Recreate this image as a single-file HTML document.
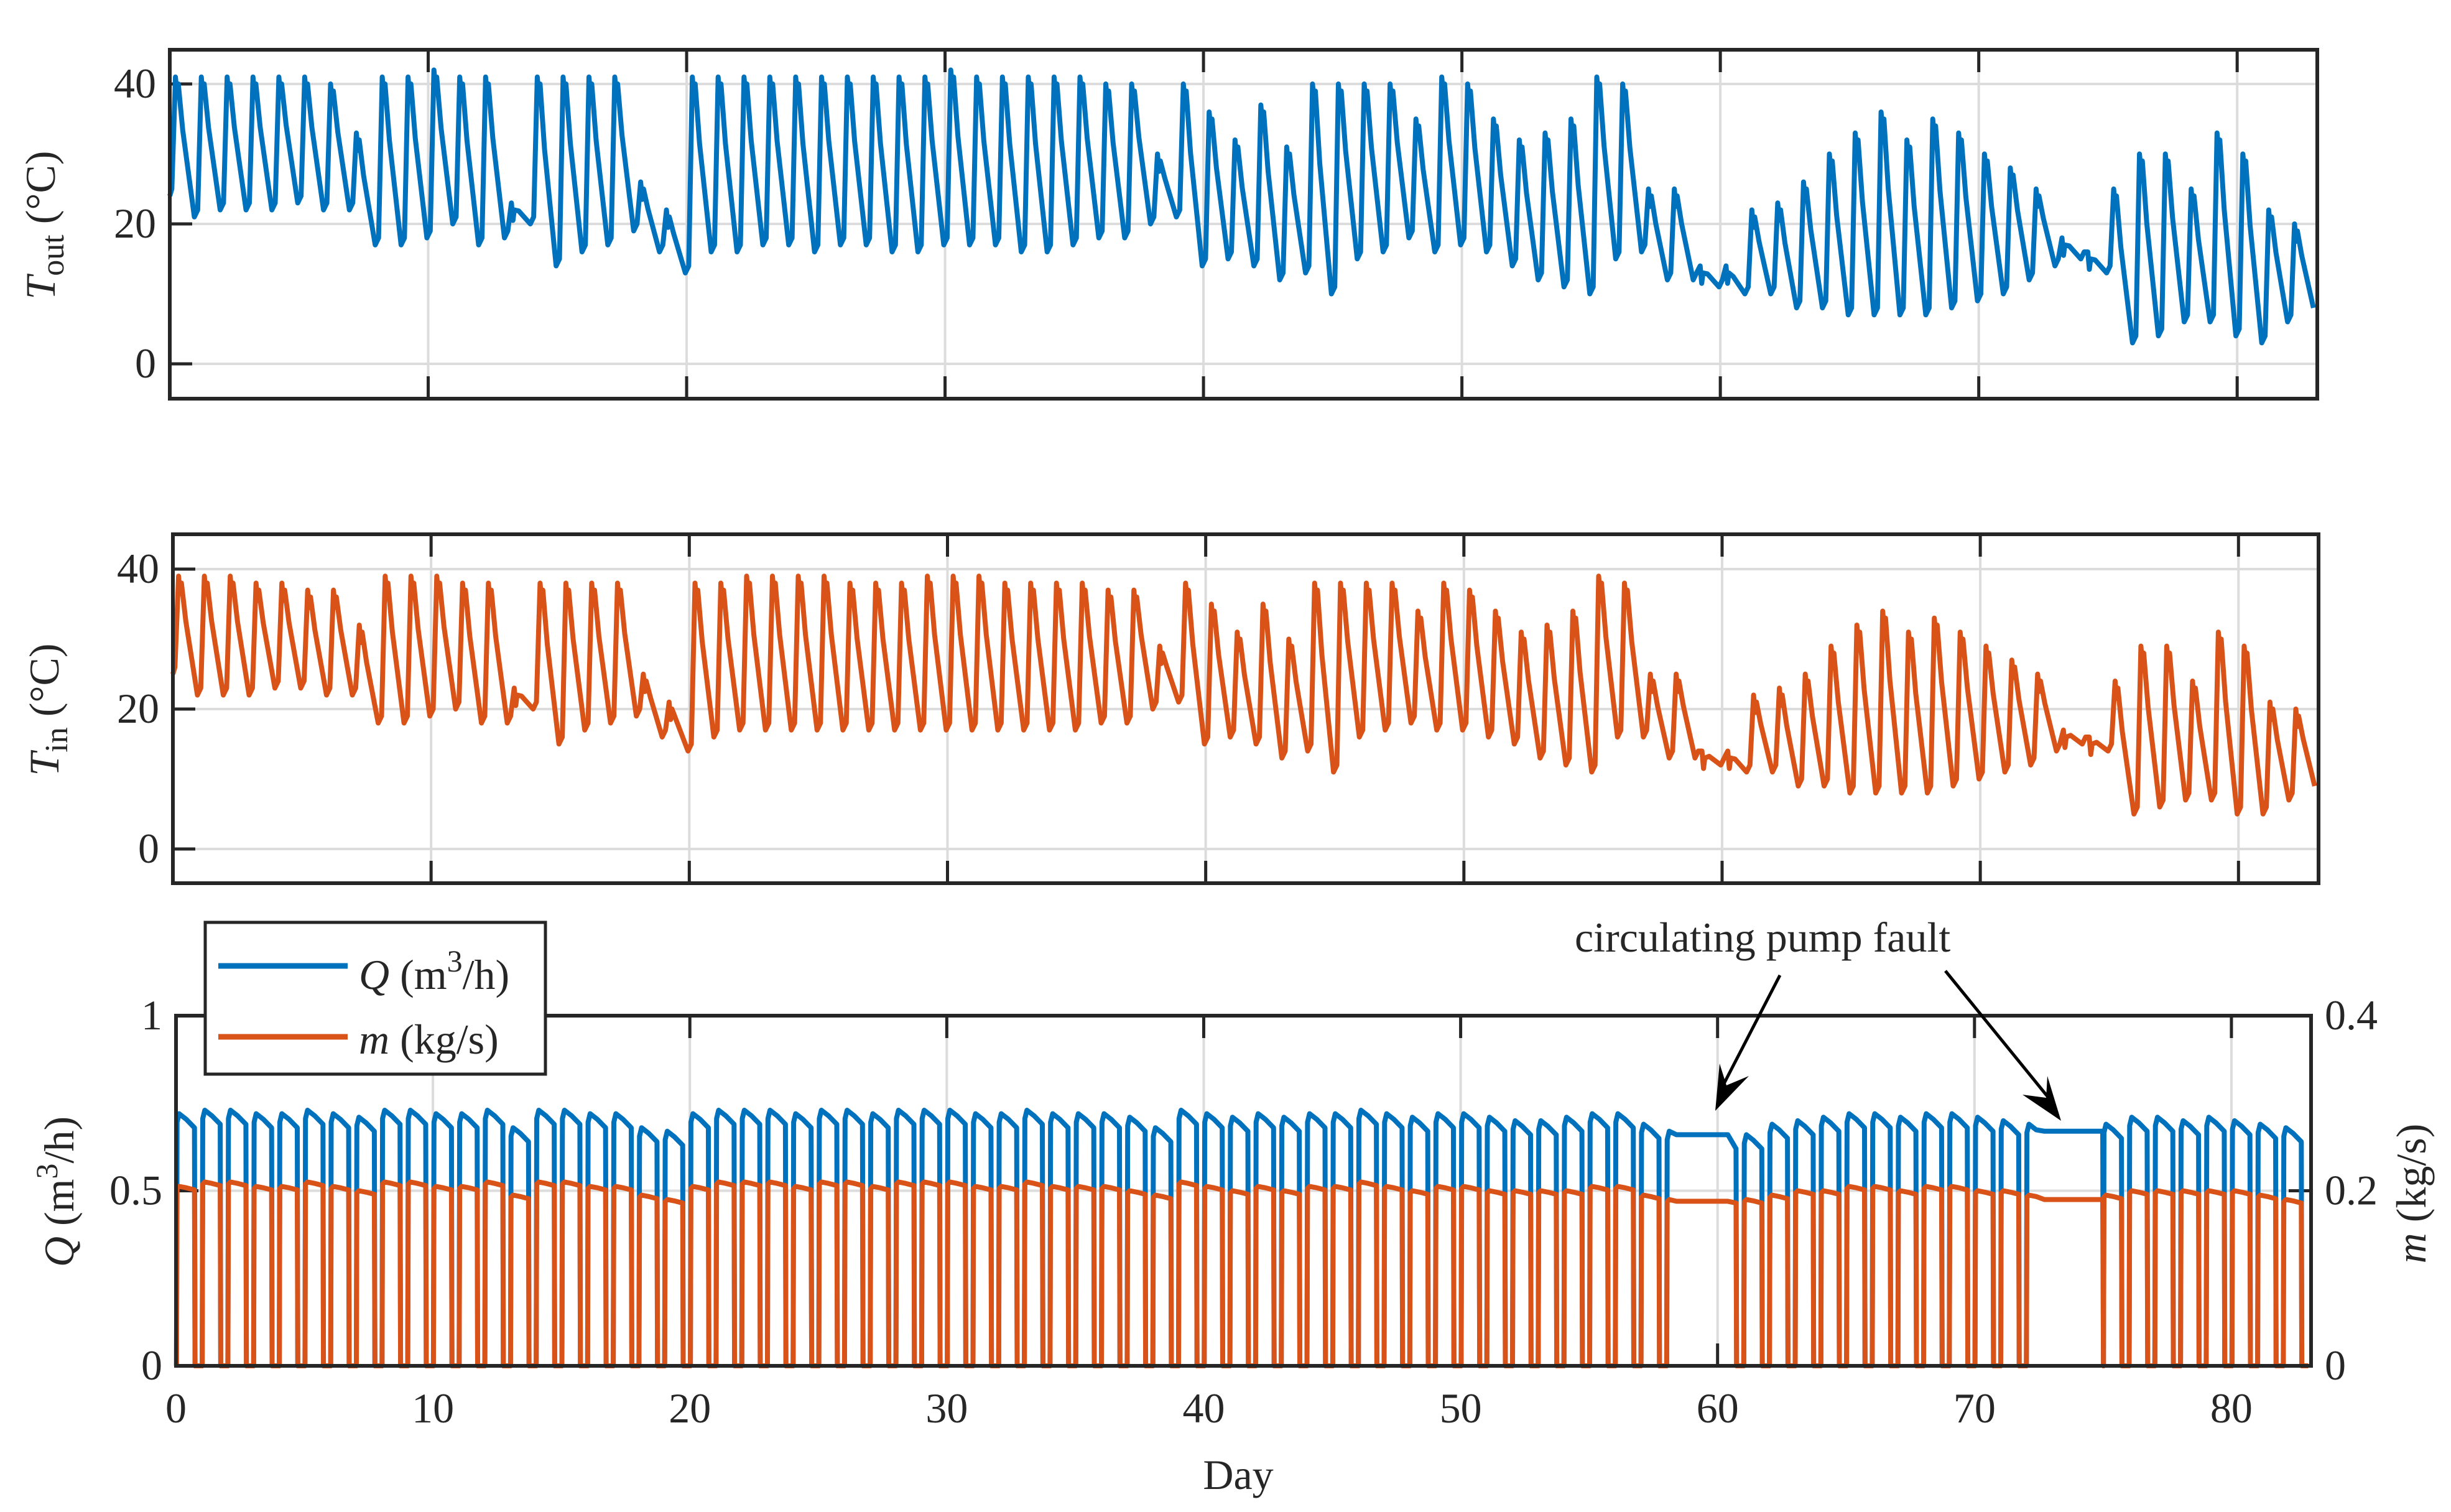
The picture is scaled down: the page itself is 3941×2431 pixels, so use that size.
<!DOCTYPE html>
<html><head><meta charset="utf-8"><style>
html,body{margin:0;padding:0;background:#fff}
svg{display:block}
text{font-family:"Liberation Serif",serif;fill:#262626}
</style></head><body>
<svg id="fig" width="3941" height="2431" viewBox="0 0 3941 2431" xmlns="http://www.w3.org/2000/svg">
<rect width="3941" height="2431" fill="#fff"/>
<g id="p1"></g>
<g id="p2"></g>
<g id="p3"></g>
<text transform="translate(88,362) rotate(-90)" text-anchor="middle" font-size="68"><tspan font-style="italic">T</tspan><tspan font-size="52" dy="14">out</tspan><tspan dy="-14"> (°C)</tspan></text>
<text transform="translate(94,1141) rotate(-90)" text-anchor="middle" font-size="68"><tspan font-style="italic">T</tspan><tspan font-size="52" dy="14">in</tspan><tspan dy="-14"> (°C)</tspan></text>
<text transform="translate(118,1916) rotate(-90)" text-anchor="middle" font-size="68"><tspan font-style="italic">Q</tspan> (m<tspan font-size="50" dy="-26">3</tspan><tspan dy="26">/h)</tspan></text>
<text transform="translate(3900,1919) rotate(-90)" text-anchor="middle" font-size="68"><tspan font-style="italic">m</tspan> (kg/s)</text>
<text x="1991" y="2394" text-anchor="middle" font-size="68">Day</text>
<g>
<rect x="330" y="1483" width="547" height="244" fill="#fff" stroke="#262626" stroke-width="5"/>
<line x1="351" y1="1553" x2="559" y2="1553" stroke="#0072BD" stroke-width="9"/>
<line x1="351" y1="1667" x2="559" y2="1667" stroke="#D95319" stroke-width="9"/>
<text x="577" y="1590" font-size="68"><tspan font-style="italic">Q</tspan> (m<tspan font-size="50" dy="-28">3</tspan><tspan dy="28">/h)</tspan></text>
<text x="577" y="1694" font-size="68"><tspan font-style="italic">m</tspan> (kg/s)</text>
</g>
<g>
<text x="2532" y="1530" font-size="68" fill="#000">circulating pump fault</text>
<line x1="2862" y1="1568" x2="2768" y2="1750" stroke="#000" stroke-width="5"/>
<polygon points="2758,1786 2765,1710 2776,1745 2812,1730" fill="#000"/>
<line x1="3128" y1="1561" x2="3298" y2="1770" stroke="#000" stroke-width="5"/>
<polygon points="3314,1802 3292,1730 3290,1765 3252,1760" fill="#000"/>
</g>
</svg>
<script>
const days = [];for(let i=0;i<83;i++)days.push(i);
const tOutPeak=[41,41,41,41,41,41,40,33,41,41,42,41,41,23,41,41,41,41,26,22,41,41,41,41,41,41,41,41,41,41,42,41,41,41,41,41,40,40,30,40,36,32,37,31,40,40,40,40,35,41,40,35,32,33,35,41,40,25,25,14,14,22,23,26,30,33,36,32,35,33,30,28,25,18,16,25,30,30,25,33,30,22,20];
const tOutMin=[21,22,22,22,23,22,22,17,17,18,20,17,18,20,14,16,17,19,16,13,16,16,17,17,16,17,17,16,16,17,17,17,16,16,17,18,18,20,21,14,15,14,12,13,10,15,16,18,16,17,16,14,12,11,10,15,16,12,12,11,10,10,8,8,7,7,7,7,8,9,10,12,14,15,13,3,4,6,6,4,3,6,8];
const tInPeak=[39,39,39,38,38,37,37,32,39,39,39,38,38,23,38,38,38,38,25,21,38,38,39,39,39,39,38,38,38,39,39,39,38,38,38,38,37,37,29,38,35,31,35,30,38,38,38,38,34,38,37,34,31,32,34,39,38,25,25,14,14,22,23,25,29,32,34,31,33,31,29,27,25,17,16,24,29,29,24,31,29,21,20];
const tInMin=[22,22,22,23,23,22,22,18,18,19,20,18,18,20,15,17,18,19,16,14,16,17,17,17,17,17,17,17,17,17,17,17,17,17,17,18,18,20,21,15,16,15,13,14,11,16,17,18,17,17,16,15,13,12,11,16,16,13,13,12,11,11,9,9,8,8,8,8,9,10,11,12,14,15,14,5,6,7,7,5,5,7,9];
const qPeak=[0.72,0.73,0.73,0.72,0.72,0.73,0.72,0.71,0.73,0.73,0.72,0.72,0.73,0.68,0.73,0.73,0.72,0.72,0.68,0.67,0.72,0.73,0.73,0.73,0.72,0.73,0.73,0.72,0.73,0.73,0.73,0.72,0.72,0.73,0.72,0.72,0.72,0.71,0.68,0.73,0.72,0.71,0.72,0.71,0.72,0.72,0.73,0.72,0.71,0.72,0.72,0.71,0.70,0.70,0.71,0.72,0.72,0.69,0.67,0.66,0.66,0.66,0.69,0.70,0.71,0.72,0.72,0.71,0.72,0.72,0.71,0.70,0.69,0.68,0.67,0.69,0.71,0.71,0.70,0.71,0.70,0.69,0.68];
const mPeak=[0.205,0.21,0.21,0.205,0.205,0.21,0.205,0.2,0.21,0.21,0.205,0.205,0.21,0.195,0.21,0.21,0.205,0.205,0.195,0.19,0.205,0.21,0.21,0.21,0.205,0.21,0.21,0.205,0.21,0.21,0.21,0.205,0.205,0.21,0.205,0.205,0.205,0.2,0.195,0.21,0.205,0.2,0.205,0.2,0.205,0.205,0.21,0.205,0.2,0.205,0.205,0.2,0.2,0.2,0.2,0.205,0.205,0.195,0.19,0.19,0.19,0.19,0.195,0.2,0.2,0.205,0.205,0.2,0.205,0.205,0.2,0.2,0.195,0.195,0.195,0.195,0.2,0.2,0.2,0.2,0.2,0.195,0.19];
const faultStart=[58.4,72.6];
const faultEnd=[60.6,75.0];
const faultQ=[0.66,0.67];
const faultM=[0.188,0.19];
const xTicks=[0,10,20,30,40,50,60,70,80];
const tTicks=[0,20,40];
const qTicks=[0,0.5,1];
const mTicks=[0,0.2,0.4];
const qTickLabels=["0","0.5","1"];
const mTickLabels=["0","0.2","0.4"];

const NS="http://www.w3.org/2000/svg";
function mk(parent,tag,attrs){const e=document.createElementNS(NS,tag);for(const k in attrs)e.setAttribute(k,attrs[k]);parent.appendChild(e);return e;}
const DMAX=83.1;
function axisX(L,R){return d=>L+(d/DMAX)*(R-L);}
function axisY(v0,v1,p0,p1){return v=>p0+(v-v0)/(v1-v0)*(p1-p0);}

function frame(g,L,R,T,B,x,y,yt,ylabels,showX){
  xTicks.forEach(t=>{const px=x(t);
    const gl=mk(g,'line',{x1:px,x2:px,y1:T,y2:B,stroke:'#dcdcdc','stroke-width':4});
    
    mk(g,'line',{x1:px,x2:px,y1:B,y2:B-36,stroke:'#262626','stroke-width':5});
    mk(g,'line',{x1:px,x2:px,y1:T,y2:T+36,stroke:'#262626','stroke-width':5});
    if(showX){const tx=mk(g,'text',{x:px,y:2287,'text-anchor':'middle','font-size':68});tx.textContent=String(t);
      }
  });
  yt.forEach((t,i)=>{const py=y(t);
    const gl=mk(g,'line',{x1:L,x2:R,y1:py,y2:py,stroke:'#dcdcdc','stroke-width':4});
    
    mk(g,'line',{x1:L,x2:L+36,y1:py,y2:py,stroke:'#262626','stroke-width':5});
    const tx=mk(g,'text',{x:L-22,y:py+22,'text-anchor':'end','font-size':68});tx.textContent=ylabels[i];
    
  });
}
function box(g,L,R,T,B){const r=mk(g,'rect',{x:L,y:T,width:R-L,height:B-T,fill:'none',stroke:'#262626','stroke-width':6});
  }

function tempPath(peak,mins,start,x,y){
  let pts=[[0,start]];let prev=start;
  days.forEach(d=>{const P=peak[d],Tr=mins[d];
    pts.push([d+0.08,prev+1],[d+0.22,P],[d+0.28,P-2.5],[d+0.33,P-1],[d+0.5,(P+Tr)/2+ (P-Tr)*0.12],[Math.min(d+0.95,DMAX),Tr]);prev=Tr;});
  return pts.filter(p=>p[0]<=DMAX).map((p,i)=>(i?'L':'M')+x(p[0]).toFixed(1)+','+y(p[1]).toFixed(1)).join('');
}
function inFault(t){for(let i=0;i<faultStart.length;i++)if(t>=faultStart[i]&&t<=faultEnd[i])return i;return -1;}
function flowPath(peaks,fq,dec,x,y){
  let pts=[];
  days.forEach(d=>{
    const pk=peaks[d];
    const seq=[[d+0.02,0],[d+0.04,pk-dec*0.6],[d+0.12,pk],[d+0.4,pk-dec*0.4],[d+0.72,pk-dec],[d+0.74,0],[d+0.99,0]];
    seq.forEach(p=>{if(p[0]>DMAX)return;const f=inFault(p[0]);pts.push([p[0],f>=0?fq[f]:p[1]]);});
  });
  return pts.map((p,i)=>(i?'L':'M')+x(p[0]).toFixed(1)+','+y(p[1]).toFixed(1)).join('');
}

// Panel 1
(function(){const g=document.getElementById('p1');const L=273,R=3726,T=80,B=641;
  const x=axisX(L,R),y=axisY(0,40,585,135);
  frame(g,L,R,T,B,x,y,tTicks,["0","20","40"],false);
  const p=mk(g,'path',{d:tempPath(tOutPeak,tOutMin,24,x,y),fill:'none',stroke:'#0072BD','stroke-width':8,'stroke-linejoin':'round'});
  
  box(g,L,R,T,B);})();
// Panel 2
(function(){const g=document.getElementById('p2');const L=278,R=3728,T=859,B=1420;
  const x=axisX(L,R),y=axisY(0,40,1365,915);
  frame(g,L,R,T,B,x,y,tTicks,["0","20","40"],false);
  const p=mk(g,'path',{d:tempPath(tInPeak,tInMin,25,x,y),fill:'none',stroke:'#D95319','stroke-width':8,'stroke-linejoin':'round'});
  
  box(g,L,R,T,B);})();
// Panel 3
(function(){const g=document.getElementById('p3');const L=283,R=3716,T=1633,B=2196;
  const x=axisX(L,R),y=axisY(0,1,B,T),ym=axisY(0,0.4,B,T);
  frame(g,L,R,T,B,x,y,qTicks,qTickLabels,true);
  mTicks.forEach((t,i)=>{const py=ym(t);mk(g,'line',{x1:R,x2:R-36,y1:py,y2:py,stroke:'#262626','stroke-width':5});
    const tx=mk(g,'text',{x:R+22,y:py+22,'font-size':68});tx.textContent=mTickLabels[i];
    });
  const pq=mk(g,'path',{d:flowPath(qPeak,faultQ,0.04,x,y),fill:'none',stroke:'#0072BD','stroke-width':8,'stroke-linejoin':'round'});
  
  const pm=mk(g,'path',{d:flowPath(mPeak,faultM,0.004,x,ym),fill:'none',stroke:'#D95319','stroke-width':8,'stroke-linejoin':'round'});
  
  box(g,L,R,T,B);})();
</script>
</body></html>
